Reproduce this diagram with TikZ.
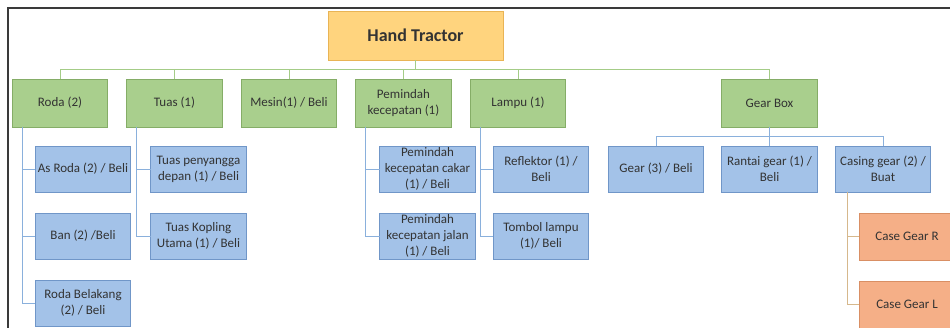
\documentclass[tikz,border=0pt]{standalone}
\usepackage{fontspec}
\setmainfont{Carlito}
\usepackage{tikz}
\usetikzlibrary{positioning}
\definecolor{textgray}{HTML}{333333}
\definecolor{framegray}{HTML}{3A3A3A}
\definecolor{htfill}{HTML}{FFD47E}
\definecolor{htdraw}{HTML}{E9B455}
\definecolor{gfill}{HTML}{A9CF8D}
\definecolor{gdraw}{HTML}{85AD67}
\definecolor{bfill}{HTML}{A3C2E8}
\definecolor{bdraw}{HTML}{7096C8}
\definecolor{ofill}{HTML}{F5AF87}
\definecolor{odraw}{HTML}{D98F64}
\definecolor{gline}{HTML}{A4CC87}
\definecolor{bline}{HTML}{8AB0DC}
\definecolor{oline}{HTML}{D6B88C}

\begin{document}
\begin{tikzpicture}[x = 1pt, y = -1pt, node distance = 19pt]
  \clip (0,0) rectangle (950,327);
  \tikzset{BoxStyle/.style   = {shape          = rectangle,
                                line width     = 0.8pt,
                                text           = textgray,
                                align          = center,
                                inner sep      = 1pt,
                                outer sep      = 0pt,
                                font           = \fontsize{13}{16}\selectfont}}
  \tikzset{MainStyle/.style  = {BoxStyle,
                                fill           = htfill,
                                draw           = htdraw,
                                minimum width  = 175pt,
                                minimum height = 49pt,
                                font           = \fontsize{18}{20}\selectfont\bfseries}}
  \tikzset{GroupStyle/.style = {BoxStyle,
                                fill           = gfill,
                                draw           = gdraw,
                                minimum width  = 95.5pt,
                                minimum height = 48pt}}
  \tikzset{PartStyle/.style  = {BoxStyle,
                                fill           = bfill,
                                draw           = bdraw,
                                minimum width  = 95.5pt,
                                minimum height = 46pt}}
  \tikzset{CaseStyle/.style  = {BoxStyle,
                                fill           = ofill,
                                draw           = odraw,
                                minimum width  = 95.5pt,
                                minimum height = 47pt}}
  \tikzset{GreenLine/.style  = {draw = gline, line width = 1pt}}
  \tikzset{BlueLine/.style   = {draw = bline, line width = 1pt}}
  \tikzset{TanLine/.style    = {draw = oline, line width = 1pt}}
  % frame
  \draw[framegray, line width = 2pt] (8,330) -- (8,8) -- (955,8);
  % top
     \node[MainStyle] (HT) at (415.5,35.5) {Hand Tractor};
  % first level
     \node[GroupStyle] (Roda) at (60,103) {Roda (2)};
     \node[GroupStyle,right=of Roda] (Tuas) {Tuas (1)};
     \node[GroupStyle,right=of Tuas] (Mesin) {Mesin(1) / Beli};
     \node[GroupStyle,right=of Mesin] (Pemindah) {Pemindah\\kecepatan (1)};
     \node[GroupStyle,right=of Pemindah] (Lampu) {Lampu (1)};
     \node[GroupStyle,right=156pt of Lampu] (GearBox) {Gear Box};
  % parts
     \node[PartStyle,below right=19pt and 23pt of Roda.south west,anchor=north west] (AsRoda) {As Roda (2) / Beli};
     \node[PartStyle,below=21pt of AsRoda] (Ban) {Ban (2) /Beli};
     \node[PartStyle,below=21pt of Ban] (RodaBlk) {Roda Belakang\\(2) / Beli};
     \node[PartStyle,below right=19pt and 24pt of Tuas.south west,anchor=north west] (TuasDpn) {Tuas penyangga\\depan (1) / Beli};
     \node[PartStyle,below=21pt of TuasDpn] (TuasKpl) {Tuas Kopling\\Utama (1) / Beli};
     \node[PartStyle,below right=19pt and 24pt of Pemindah.south west,anchor=north west] (PmCakar) {Pemindah\\kecepatan cakar\\(1) / Beli};
     \node[PartStyle,below=21pt of PmCakar] (PmJalan) {Pemindah\\kecepatan jalan\\(1) / Beli};
     \node[PartStyle,below right=19pt and 23pt of Lampu.south west,anchor=north west] (Reflektor) {Reflektor (1) /\\Beli};
     \node[PartStyle,below=21pt of Reflektor] (Tombol) {Tombol lampu\\(1)/ Beli};
     \node[PartStyle,below=19pt of GearBox] (Rantai) {Rantai gear (1) /\\Beli};
     \node[PartStyle,left=18pt of Rantai] (Gear) {Gear (3) / Beli};
     \node[PartStyle,right=18pt of Rantai] (Casing) {Casing gear (2) /\\Buat};
     \node[CaseStyle,below right=21pt and 24pt of Casing.south west,anchor=north west] (CaseR) {Case Gear R};
     \node[CaseStyle,below=21pt of CaseR] (CaseL) {Case Gear L};
  % connectors
     \foreach \g in {Roda,Tuas,Mesin,Pemindah,Lampu,GearBox}
       \draw[GreenLine] (HT.south) -- ++(0,9.5) -| (\g.north);
     \foreach \g in {Gear,Rantai,Casing}
       \draw[BlueLine] (GearBox.south) -- ++(0,9) -| (\g.north);
     \foreach \p/\c in {Roda/AsRoda,Roda/Ban,Roda/RodaBlk,Tuas/TuasDpn,Tuas/TuasKpl,
                        Pemindah/PmCakar,Pemindah/PmJalan,Lampu/Reflektor,Lampu/Tombol}
       \draw[BlueLine] ([xshift=10pt]\p.south west) |- (\c.west);
     \foreach \c in {CaseR,CaseL}
       \draw[TanLine] ([xshift=12pt]Casing.south west) |- (\c.west);
\end{tikzpicture}
\end{document}
